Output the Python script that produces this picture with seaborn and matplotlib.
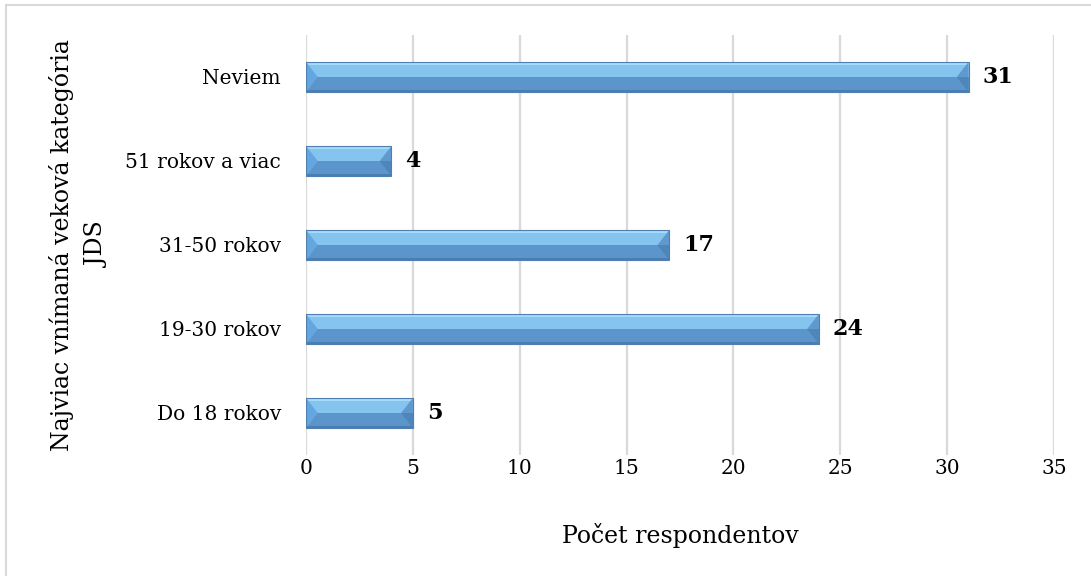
import matplotlib
matplotlib.use("Agg")
import matplotlib.pyplot as plt
from matplotlib.patches import Polygon, Rectangle
import seaborn as sns
import pandas as pd

categories = ["Neviem", "51 rokov a viac", "31-50 rokov", "19-30 rokov", "Do 18 rokov"]
counts = [31, 4, 17, 24, 5]
x_ticks = [0, 5, 10, 15, 20, 25, 30, 35]
x_label = "Počet respondentov"
y_label = "Najviac vnímaná veková kategória\nJDS"

df = pd.DataFrame({"kategoria": categories, "pocet": counts})

sns.set_theme(style="white")
plt.rcParams["font.family"] = ["DejaVu Serif"]

fig = plt.figure(figsize=(10.91, 5.76), dpi=100)
ax = fig.add_axes([306 / 1091, 1 - 455 / 576, (1054 - 306) / 1091, (455 - 35) / 576])

sns.barplot(data=df, x="pocet", y="kategoria", order=categories, orient="h",
            color="#5B95CB", width=0.36, ax=ax, zorder=3, linewidth=0)

ax.set_xlim(0, 35)
ax.set_xticks(x_ticks)
ax.set_xticklabels([str(t) for t in x_ticks], fontsize=14.5)
ax.tick_params(axis="y", labelsize=14.5, length=0, pad=18)
ax.tick_params(axis="x", length=0, pad=3)
ax.xaxis.grid(True, color="#D9D9D9", linewidth=1.6, zorder=0)
ax.yaxis.grid(False)
for s in ax.spines.values():
    s.set_visible(False)

ax.set_xlabel(x_label, fontsize=17, labelpad=32)
ax.set_ylabel(y_label, fontsize=17, labelpad=12, linespacing=1.65)
for lbl in ax.get_yticklabels():
    lbl.set_color("black")
for lbl in ax.get_xticklabels():
    lbl.set_color("black")
ax.xaxis.label.set_color("black")
ax.yaxis.label.set_color("black")

# Bevelled look on each bar, built from the bar geometry
bevel_x = 0.55  # end triangle depth in data units
for p, v in zip(ax.patches, counts):
    x0, y0 = p.get_x(), p.get_y()
    w, h = p.get_width(), p.get_height()
    x1, y1 = x0 + w, y0 + h
    ym = y0 + h / 2
    # y axis is inverted: y0 is the visual top
    top, bot = y0, y1
    bx = min(bevel_x, w / 2)
    ax.add_patch(Rectangle((x0, top), w, h / 2, facecolor="#86C4F0", edgecolor="none", zorder=4))
    ax.add_patch(Rectangle((x0, ym), w, h / 2, facecolor="#5B95CB", edgecolor="none", zorder=4))
    ax.add_patch(Rectangle((x0, top), w, h * 0.1, facecolor="#A6DAFD", edgecolor="none", zorder=5))
    ax.add_patch(Rectangle((x0, bot - h * 0.08), w, h * 0.08, facecolor="#4A7EB0", edgecolor="none", zorder=5))
    ax.add_patch(Polygon([(x0, top), (x0 + bx, ym), (x0, bot)], closed=True,
                         facecolor="#64A6E0", edgecolor="none", zorder=6))
    ax.add_patch(Polygon([(x1, top), (x1 - bx, ym), (x1, ym)], closed=True,
                         facecolor="#5F99CE", edgecolor="none", zorder=6))
    ax.add_patch(Polygon([(x1, ym), (x1 - bx, ym), (x1, bot)], closed=True,
                         facecolor="#4F86BA", edgecolor="none", zorder=6))
    ax.add_patch(Rectangle((x0, top), w, h, facecolor="none", edgecolor="#4F7FAF",
                           linewidth=0.8, zorder=7))
    ax.text(x1 + 0.65, ym, str(v), ha="left", va="center", fontsize=16,
            fontweight="bold", color="black", zorder=8)

# Light frame around the chart area
fig.add_artist(Rectangle((6 / 1091, -0.1), 1.2, 1 - 5 / 576 + 0.1, transform=fig.transFigure,
                         facecolor="none", edgecolor="#D9D9D9", linewidth=1.5))

fig.savefig("out.png", dpi=100)
